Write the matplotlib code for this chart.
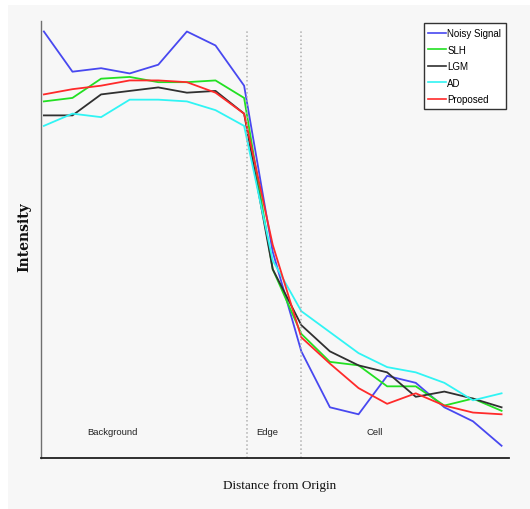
import numpy as np
import matplotlib
matplotlib.use('Agg')
import matplotlib.pyplot as plt
from matplotlib.patches import Rectangle

# sample positions along the profile
distance = np.arange(1, 18)

noisy    = [244, 221, 223, 220, 225, 244, 236, 213, 118, 61, 29, 25, 47, 43, 29, 21, 7]
slh      = [204, 206, 217, 218, 215, 215, 216, 206, 108, 71, 55, 53, 41, 41, 30, 34, 27]
lgm      = [196, 196, 208, 210, 212, 209, 210, 197, 108, 76, 61, 53, 49, 35, 38, 34, 29]
ad       = [190, 197, 195, 205, 205, 204, 199, 190, 113, 84, 72, 60, 52, 49, 43, 33, 37]
proposed = [208, 211, 213, 216, 216, 215, 209, 197, 122, 69, 54, 40, 31, 37, 30, 26, 25]

series_names = ['Noisy Signal', 'SLH', 'LGM', 'AD', 'Proposed']
series_colors = ['#4848f0', '#22e022', '#303030', '#30f4f4', '#ff2a2a']

region_names = ['Background', 'Edge', 'Cell']
region_pos = [3.38, 8.8, 12.57]
boundaries = [8.1, 10.0]

bg = '#f7f7f7'
narrow = ['Liberation Sans Narrow', 'Liberation Sans', 'DejaVu Sans']

fig = plt.figure(figsize=(5.3, 5.1), dpi=100, facecolor='white')
fig.patches.append(Rectangle((8 / 530, 0), 1, 1 - 6 / 510, transform=fig.transFigure,
                             facecolor=bg, edgecolor='none', zorder=-10))
ax = fig.add_axes([41 / 530, 1 - 459 / 510, 468 / 530, 437 / 510])
ax.set_facecolor(bg)

for vals, name, col in zip([noisy, slh, lgm, ad, proposed], series_names, series_colors):
    ax.plot(distance, vals, color=col, lw=1.3, label=name)

# region boundaries
for b in boundaries:
    ax.axvline(b, ymax=0.977, color='#b0b0b0', ls=':', lw=1.1)

for name, xp in zip(region_names, region_pos):
    ax.text(xp, 15, name, ha='center', va='center', fontsize=6.8, family=narrow, color='#222222')

ax.set_xlim(0.9, 17.26)
ax.set_ylim(0, 250)
ax.set_xticks([])
ax.set_yticks([])
for s in ['top', 'right']:
    ax.spines[s].set_visible(False)
ax.spines['left'].set_color('#707070')
ax.spines['left'].set_linewidth(1.0)
ax.spines['bottom'].set_color('#202020')
ax.spines['bottom'].set_linewidth(1.3)

leg = ax.legend(loc='upper right', bbox_to_anchor=(0.994, 0.995), fancybox=False,
                framealpha=1, edgecolor='#333333', facecolor='white',
                prop={'family': narrow, 'size': 7}, handlelength=1.8,
                handletextpad=0.15, labelspacing=0.68, borderpad=0.5, borderaxespad=0)
leg.get_frame().set_linewidth(1.0)
for line in leg.get_lines():
    line.set_linewidth(1.2)

fig.text(280 / 530, 1 - 486 / 510, 'Distance from Origin', ha='center', va='center',
         fontsize=9.5, family='Liberation Serif', color='#111111')
fig.text(24 / 530, 1 - 237 / 510, 'Intensity', ha='center', va='center', rotation=90,
         fontsize=10, family='DejaVu Serif', fontweight='bold', color='#111111')

fig.savefig('out.png', dpi=100, facecolor='white')
